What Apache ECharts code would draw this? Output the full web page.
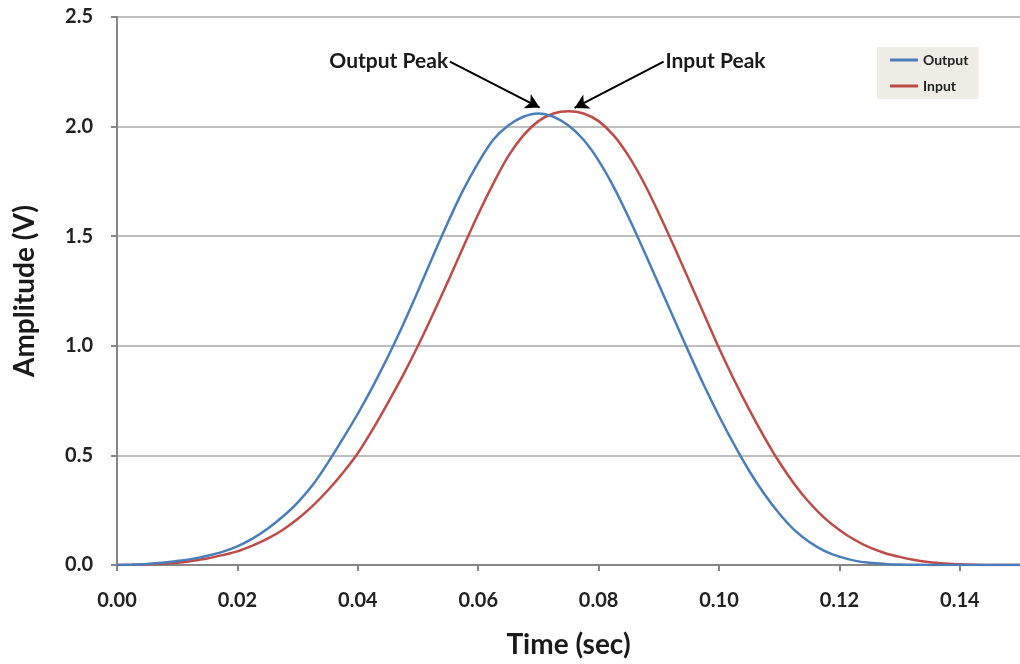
<!DOCTYPE html>
<html>
<head>
<meta charset="utf-8">
<script src="https://cdn.jsdelivr.net/npm/echarts@6/dist/echarts.min.js"></script>
<style>
html,body{margin:0;padding:0;background:#fff;}
#chart{width:1020px;height:664px;}
</style>
</head>
<body>
<div id="chart"></div>
<script>
// Time samples (sec)
const time = [0.0000,0.0025,0.0050,0.0075,0.0100,0.0125,0.0150,0.0175,0.0200,0.0225,
              0.0250,0.0275,0.0300,0.0325,0.0350,0.0375,0.0400,0.0425,0.0450,0.0475,
              0.0500,0.0525,0.0550,0.0575,0.0600,0.0625,0.0650,0.0675,0.0700,0.0725,
              0.0750,0.0775,0.0800,0.0825,0.0850,0.0875,0.0900,0.0925,0.0950,0.0975,
              0.1000,0.1025,0.1050,0.1075,0.1100,0.1125,0.1150,0.1175,0.1200,0.1225,
              0.1250,0.1275,0.1300,0.1325,0.1350,0.1375,0.1400,0.1425,0.1450,0.1475,0.1500];
// Output amplitude (V)
const outputV = [0,0.002,0.005,0.01,0.018,0.028,0.042,0.06,0.085,0.12,
                 0.165,0.22,0.285,0.365,0.465,0.575,0.69,0.815,0.95,1.095,
                 1.25,1.41,1.565,1.71,1.835,1.94,2.005,2.045,2.06,2.045,
                 2.005,1.94,1.845,1.725,1.585,1.435,1.28,1.125,0.97,0.82,
                 0.68,0.55,0.43,0.325,0.235,0.16,0.105,0.065,0.038,0.02,
                 0.01,0.005,0.002,0.001,0,0,0,0,0,0,0];
// Input amplitude (V)
const inputV = [0,0.001,0.003,0.006,0.01,0.019,0.03,0.045,0.062,0.088,
                0.12,0.16,0.21,0.27,0.34,0.42,0.51,0.62,0.74,0.865,
                1.00,1.145,1.295,1.45,1.60,1.74,1.865,1.96,2.025,2.06,
                2.07,2.06,2.025,1.96,1.865,1.745,1.605,1.455,1.30,1.145,
                0.99,0.845,0.71,0.585,0.47,0.37,0.285,0.215,0.16,0.115,
                0.08,0.055,0.037,0.023,0.013,0.007,0.003,0.001,0,0,0];
const seriesNames = ['Output','Input'];
const xTitle = 'Time (sec)';
const yTitle = 'Amplitude (V)';
// annotation text and arrow endpoints in data units [time, amplitude]
const annotations = [
  {text:'Output Peak', from:[0.0553,2.296], to:[0.0702,2.087]},
  {text:'Input Peak',  from:[0.0908,2.296], to:[0.0760,2.085]}
];

const FONT = 'Lato, "DejaVu Sans", sans-serif';
const chart = echarts.init(document.getElementById('chart'), null, {renderer:'canvas'});
const pairs = (ys) => time.map((t,i)=>[t, ys[i]]);

chart.setOption({
  backgroundColor:'#ffffff',
  animation:false,
  grid:{left:117, right:-6, top:17, bottom:98, containLabel:false},
  legend:{
    data:seriesNames,
    orient:'vertical',
    left:877, top:47,
    backgroundColor:'#efebe5',
    padding:[6,10,6,13],
    itemGap:12,
    itemWidth:28, itemHeight:3,
    icon:'rect',
    textStyle:{fontFamily:FONT, fontWeight:'bold', fontSize:14, color:'#222'}
  },
  xAxis:{
    type:'value', min:0, max:0.15, interval:0.02,
    name:xTitle, nameLocation:'middle', nameGap:66,
    nameTextStyle:{fontFamily:FONT, fontWeight:'bold', fontSize:28, color:'#1a1a1a'},
    axisLine:{show:true, lineStyle:{color:'#868686', width:2}},
    axisTick:{show:true, inside:false, length:6, lineStyle:{color:'#868686', width:2}},
    axisLabel:{fontFamily:FONT, fontWeight:'bold', fontSize:20, color:'#222', margin:26,
      showMaxLabel:false, formatter:(v)=>v.toFixed(2)},
    splitLine:{show:false}
  },
  yAxis:{
    type:'value', min:0, max:2.5, interval:0.5,
    name:yTitle, nameLocation:'middle', nameGap:78, nameRotate:90,
    nameTextStyle:{fontFamily:FONT, fontWeight:'bold', fontSize:28, color:'#1a1a1a'},
    axisLine:{show:true, lineStyle:{color:'#868686', width:2}},
    axisTick:{show:true, inside:false, length:6, lineStyle:{color:'#868686', width:2}},
    axisLabel:{fontFamily:FONT, fontWeight:'bold', fontSize:20, color:'#222', margin:24,
      formatter:(v)=>v.toFixed(1)},
    splitLine:{show:true, lineStyle:{color:'#a9a9a9', width:1.5}}
  },
  series:[
    {
      name:seriesNames[0], type:'line', data:pairs(outputV), smooth:0.3, symbol:'none',
      lineStyle:{color:'#4a7ebb', width:2.5}, itemStyle:{color:'#4a7ebb'}, z:3,
      markLine:{
        silent:true, symbol:['none','arrow'], symbolSize:[12,14], animation:false,
        lineStyle:{color:'#000', width:2, type:'solid'},
        label:{show:true, position:'start', distance:2, formatter:(p)=>p.name,
          fontFamily:FONT, fontWeight:'bold', fontSize:21, color:'#1a1a1a'},
        data: annotations.map(a=>[{name:a.text, coord:a.from},{coord:a.to}])
      }
    },
    {
      name:seriesNames[1], type:'line', data:pairs(inputV), smooth:0.3, symbol:'none',
      lineStyle:{color:'#be4b48', width:2.5}, itemStyle:{color:'#be4b48'}, z:2
    }
  ]
});
</script>
</body>
</html>
